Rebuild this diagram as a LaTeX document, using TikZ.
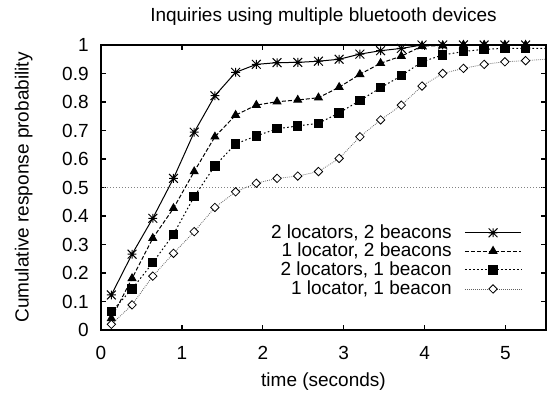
\documentclass[tikz,border=0pt]{standalone}
\usepackage{fontspec}
\setmainfont{Liberation Sans}
\usepackage{tikz}
\usetikzlibrary{plotmarks,positioning}
\definecolor{halfcol}{RGB}{130,130,130}
\definecolor{lowcol}{RGB}{95,95,95}
\pgfdeclareplotmark{gpstar}{%
  \pgfpathmoveto{\pgfqpoint{-\pgfplotmarksize}{0pt}}\pgfpathlineto{\pgfqpoint{\pgfplotmarksize}{0pt}}%
  \pgfpathmoveto{\pgfqpoint{0pt}{-\pgfplotmarksize}}\pgfpathlineto{\pgfqpoint{0pt}{\pgfplotmarksize}}%
  \pgfpathmoveto{\pgfqpoint{-\pgfplotmarksize}{-\pgfplotmarksize}}\pgfpathlineto{\pgfqpoint{\pgfplotmarksize}{\pgfplotmarksize}}%
  \pgfpathmoveto{\pgfqpoint{-\pgfplotmarksize}{\pgfplotmarksize}}\pgfpathlineto{\pgfqpoint{\pgfplotmarksize}{-\pgfplotmarksize}}%
  \pgfusepathqstroke}
\pgfdeclareplotmark{gpdiamond}{%
  \pgfpathmoveto{\pgfqpoint{0pt}{\pgfplotmarksize}}\pgfpathlineto{\pgfqpoint{\pgfplotmarksize}{0pt}}%
  \pgfpathlineto{\pgfqpoint{0pt}{-\pgfplotmarksize}}\pgfpathlineto{\pgfqpoint{-\pgfplotmarksize}{0pt}}%
  \pgfpathclose\pgfusepathqfillstroke}
\tikzset{
  every node/.style={font=\fontsize{9.5}{11}\selectfont,inner sep=0pt},
  frame/.style={line width=0.8pt},
  tck/.style={line width=0.6pt},
  halfln/.style={halfcol,line width=0.4pt,dash pattern=on 0.5pt off 1pt},
  curveA/.style={line width=0.5pt,mark=gpstar,mark size=2.2pt,mark options={solid}},
  curveB/.style={line width=0.5pt,dash pattern=on 2pt off 1pt,mark=triangle*,mark size=2.2pt,mark options={solid}},
  curveC/.style={line width=0.5pt,dash pattern=on 0.8pt off 1.2pt,mark=square*,mark size=2.1pt,mark options={solid}},
  curveD/.style={lowcol,line width=0.4pt,dash pattern=on 0.4pt off 0.6pt,mark=gpdiamond,mark size=2.1pt,mark options={solid,black,fill=white,line width=0.4pt}}
}

\begin{document}
\begin{tikzpicture}[x=40.45pt,y=142.5pt]
  \useasboundingbox (-1.2484,-0.22456) rectangle (5.5871,1.15789);
  \node[anchor=base] (title) at (2.75,1.0807) {Inquiries using multiple bluetooth devices};
  \node[anchor=base] (xlab) at (2.75,-0.1965) {time (seconds)};
  \node[rotate=90,anchor=base] (ylab) at (-0.895,0.5) {Cumulative response probability};
  \foreach \v [count=\i] in {0,0.1,0.2,0.3,0.4,0.5,0.6,0.7,0.8,0.9,1}{
    \node[anchor=east] (yt\i) at (-0.148,\v) {\v};
    \draw[tck] (0,\v) -- ++(2.5pt,0);
    \draw[tck] (5.5,\v) -- ++(-2.5pt,0);
  }
  \foreach \v in {0,...,5}{
    \node[anchor=base] (xt\v) at (\v,-0.102) {\v};
    \draw[tck] (\v,0) -- ++(0,2.5pt);
    \draw[tck] (\v,1) -- ++(0,-2.5pt);
  }
  \draw[halfln] (0,0.5) -- (5.5,0.5);
  \draw[curveA,mark indices={1,...,21}] plot coordinates {(0.128,0.123) (0.384,0.266) (0.640,0.392) (0.896,0.532) (1.152,0.694) (1.408,0.822) (1.664,0.904) (1.920,0.932) (2.176,0.938) (2.432,0.939) (2.688,0.943) (2.944,0.950) (3.200,0.968) (3.456,0.980) (3.712,0.988) (3.968,1) (4.224,1) (4.480,1) (4.736,1) (4.992,1) (5.248,1) (5.5,1)};
  \draw[curveB,mark indices={1,...,21}] plot coordinates {(0.128,0.041) (0.384,0.181) (0.640,0.322) (0.896,0.427) (1.152,0.556) (1.408,0.678) (1.664,0.754) (1.920,0.789) (2.176,0.801) (2.432,0.807) (2.688,0.815) (2.944,0.852) (3.200,0.897) (3.456,0.936) (3.712,0.961) (3.968,0.996) (4.224,0.998) (4.480,1) (4.736,1) (4.992,1) (5.248,1) (5.5,1)};
  \draw[curveC,mark indices={1,...,21}] plot coordinates {(0.128,0.064) (0.384,0.144) (0.640,0.236) (0.896,0.336) (1.152,0.468) (1.408,0.576) (1.664,0.653) (1.920,0.681) (2.176,0.706) (2.432,0.716) (2.688,0.725) (2.944,0.762) (3.200,0.805) (3.456,0.850) (3.712,0.892) (3.968,0.941) (4.224,0.965) (4.480,0.977) (4.736,0.985) (4.992,0.988) (5.248,0.988) (5.5,0.988)};
  \draw[curveD,mark indices={1,...,21}] plot coordinates {(0.128,0.020) (0.384,0.088) (0.640,0.189) (0.896,0.269) (1.152,0.345) (1.408,0.430) (1.664,0.485) (1.920,0.515) (2.176,0.532) (2.432,0.540) (2.688,0.556) (2.944,0.602) (3.200,0.678) (3.456,0.737) (3.712,0.789) (3.968,0.856) (4.224,0.900) (4.480,0.918) (4.736,0.932) (4.992,0.941) (5.248,0.945) (5.5,0.950)};
  \draw[frame] (0,0) rectangle (5.5,1);
  \node[anchor=east] (keyA) at (4.339,0.341) {2 locators, 2 beacons};
  \node[anchor=east] (keyB) at (4.339,0.277) {1 locator, 2 beacons};
  \node[anchor=east] (keyC) at (4.339,0.211) {2 locators, 1 beacon};
  \node[anchor=east] (keyD) at (4.339,0.144) {1 locator, 1 beacon};
  \coordinate (sA0) at (4.499,0.341); \coordinate (sA1) at (4.846,0.341); \coordinate (sA2) at (5.192,0.341);
  \coordinate (sB0) at (4.499,0.277); \coordinate (sB1) at (4.846,0.277); \coordinate (sB2) at (5.192,0.277);
  \coordinate (sC0) at (4.499,0.211); \coordinate (sC1) at (4.846,0.211); \coordinate (sC2) at (5.192,0.211);
  \coordinate (sD0) at (4.499,0.144); \coordinate (sD1) at (4.846,0.144); \coordinate (sD2) at (5.192,0.144);
  \draw[curveA,mark indices={2}] plot coordinates {(sA0) (sA1) (sA2)};
  \draw[curveB,mark indices={2}] plot coordinates {(sB0) (sB1) (sB2)};
  \draw[curveC,mark indices={2}] plot coordinates {(sC0) (sC1) (sC2)};
  \draw[curveD,mark indices={2}] plot coordinates {(sD0) (sD1) (sD2)};
\end{tikzpicture}
\end{document}
